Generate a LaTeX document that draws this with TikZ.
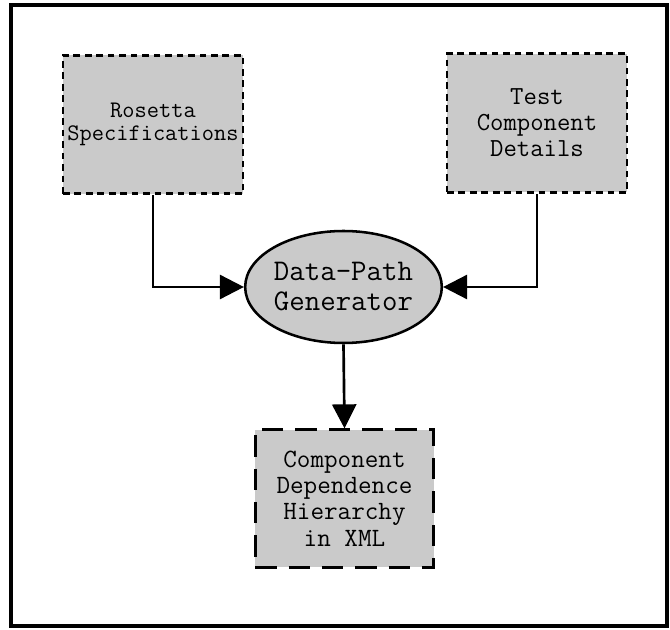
\documentclass[tikz,border=0pt]{standalone}
\usepackage{tikz}
\usetikzlibrary{shapes,arrows,positioning,calc,arrows.meta}

\definecolor{boxgray}{RGB}{202,202,202}

\tikzset{
    specbox/.style={draw, fill=boxgray, line width=2.2pt, dash pattern=on 5pt off 3.6pt,
        minimum width=135pt, minimum height=104pt, inner sep=0pt, align=center},
    genellipse/.style={ellipse, draw, fill=boxgray, line width=1.9pt,
        minimum width=146pt, minimum height=84pt, inner sep=0pt, align=center},
    outbox/.style={draw, fill=boxgray, line width=2.2pt, dash pattern=on 16pt off 9pt,
        minimum width=134pt, minimum height=103pt, inner sep=0pt, align=center},
    flow/.style={line width=2pt, -{Triangle[length=18pt,width=18pt]}}
}

\begin{document}
\begin{tikzpicture}[x=0.75pt, y=-0.75pt]
    \useasboundingbox (0,0) rectangle (670,630);
    \draw[line width=2.4pt] (11,5) rectangle (667,626);

    % Inputs
    \node[specbox, font=\ttfamily\fontsize{17.8pt}{17.8pt}\selectfont] (rosetta) at (153,124.5) {Rosetta\\Specifications};
    \node[specbox, font=\ttfamily\fontsize{19.5pt}{19.5pt}\selectfont] (details) at (537,123) {Test\\Component\\Details};

    % Generator
    \node[genellipse, font=\ttfamily\fontsize{22.5pt}{22.5pt}\selectfont] (generator) at (343.5,287) {Data-Path\\Generator};

    % Output
    \node[outbox, font=\ttfamily\fontsize{19.8pt}{19.8pt}\selectfont] (hierarchy) at (344.5,498.5) {Component\\Dependence\\Hierarchy\\in XML};

    \draw[flow] (rosetta.south) |- (generator.west);
    \draw[flow] (details.south) |- (generator.east);
    \draw[flow] (generator.south) -- (hierarchy.north);
\end{tikzpicture}
\end{document}
